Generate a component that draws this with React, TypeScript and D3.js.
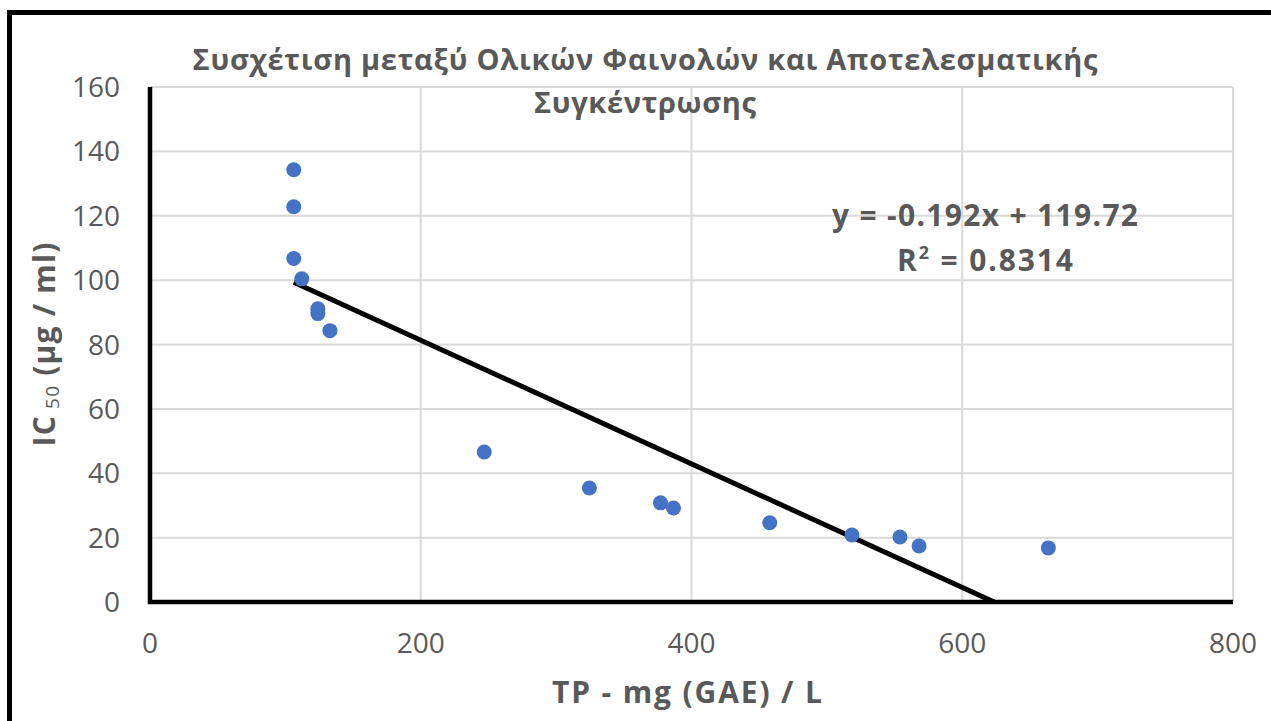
import React from "react";
import * as d3 from "d3";

const tpValues = [106.2, 106.2, 106.2, 112.1, 124.0, 124.0, 132.9, 246.9, 324.6, 377.1, 386.7, 457.8, 518.5, 554.0, 568.1, 663.6];
const ic50Values = [134.3, 122.8, 106.7, 100.4, 91.1, 89.6, 84.3, 46.6, 35.4, 30.8, 29.2, 24.6, 20.8, 20.2, 17.4, 16.8];
const xTicks = [0, 200, 400, 600, 800];
const yTicks = [0, 20, 40, 60, 80, 100, 120, 140, 160];
const trendSlope = -0.192;
const trendIntercept = 119.72;
const titleLines = ["Συσχέτιση μεταξύ Ολικών Φαινολών και Αποτελεσματικής", "Συγκέντρωσης"];
const xTitle = "TP - mg (GAE) / L";
const equationText = "y = -0.192x + 119.72";
const r2Value = "0.8314";

const W = 1271;
const H = 721;
const FONT = "'Open Sans', 'Noto Sans', sans-serif";
const GRAY = "#595959";

export default function App() {
  const x = d3.scaleLinear().domain([0, 800]).range([150, 1233]);
  const y = d3.scaleLinear().domain([0, 160]).range([602, 87]);
  const pts = tpValues.map((v, i) => [v, ic50Values[i]] as [number, number]);
  const xMin = d3.min(tpValues) as number;
  const xMax = d3.max(tpValues) as number;
  const trend = d3
    .line<number>()
    .x((d) => x(d))
    .y((d) => y(trendSlope * d + trendIntercept));
  const trendPath = trend([xMin, xMax]) || "";

  return (
    <svg
      width={W}
      height={H}
      style={{ position: "absolute", left: 0, top: 0, display: "block", background: "#fff" }}
    >
      <defs>
        <clipPath id="plotClip">
          <rect x={x(0)} y={y(160)} width={x(800) - x(0)} height={y(0) - y(160)} />
        </clipPath>
      </defs>
      <rect x={0} y={0} width={W} height={H} fill="#fff" />
      {/* outer frame */}
      <rect x={9.5} y={12.5} width={W + 20} height={H + 20} fill="none" stroke="#000" strokeWidth={5} />

      {/* gridlines */}
      {yTicks.filter((t) => t > 0).map((t) => (
        <line key={"gy" + t} x1={x(0)} x2={x(800)} y1={y(t)} y2={y(t)} stroke="#d9d9d9" strokeWidth={2} />
      ))}
      {xTicks.filter((t) => t > 0).map((t) => (
        <line key={"gx" + t} x1={x(t)} x2={x(t)} y1={y(160)} y2={y(0)} stroke="#d9d9d9" strokeWidth={2} />
      ))}

      {/* axes */}
      <line x1={x(0)} x2={x(0)} y1={y(160)} y2={y(0) + 2} stroke="#000" strokeWidth={4.5} />
      <line x1={x(0) - 2} x2={x(800)} y1={y(0)} y2={y(0)} stroke="#000" strokeWidth={4.5} />

      {/* tick labels */}
      {yTicks.map((t) => (
        <text key={"ty" + t} x={120} y={y(t)} dy="0.36em" textAnchor="end" fontFamily={FONT} fontSize={28} fill={GRAY}>
          {t}
        </text>
      ))}
      {xTicks.map((t) => (
        <text key={"tx" + t} x={x(t)} y={653} textAnchor="middle" fontFamily={FONT} fontSize={28} fill={GRAY}>
          {t}
        </text>
      ))}

      {/* trendline */}
      <path d={trendPath} stroke="#000" strokeWidth={5} fill="none" clipPath="url(#plotClip)" />

      {/* points */}
      {pts.map((p, i) => (
        <circle key={"p" + i} cx={x(p[0])} cy={y(p[1])} r={7.5} fill="#4472C4" />
      ))}

      {/* title */}
      <text x={645} y={70} textAnchor="middle" fontFamily={FONT} fontWeight="bold" fontSize={29} fill={GRAY} textLength={905}>
        {titleLines[0]}
      </text>
      <text x={645} y={113} textAnchor="middle" fontFamily={FONT} fontWeight="bold" fontSize={29} fill={GRAY} textLength={222}>
        {titleLines[1]}
      </text>

      {/* equation */}
      <text x={985} y={226} textAnchor="middle" fontFamily={FONT} fontWeight="bold" fontSize={30} fill={GRAY} textLength={306}>
        {equationText}
      </text>
      <text x={985} y={271} textAnchor="middle" fontFamily={FONT} fontWeight="bold" fontSize={30} fill={GRAY} textLength={176}>
        R<tspan fontSize={18} dy={-12}>2</tspan><tspan dy={12}> = {r2Value}</tspan>
      </text>

      {/* axis titles */}
      <text x={687} y={703} textAnchor="middle" fontFamily={FONT} fontWeight="bold" fontSize={30} fill={GRAY} textLength={270}>
        {xTitle}
      </text>
      <text
        transform={`translate(55, ${(y(0) + y(160)) / 2}) rotate(-90)`}
        textAnchor="middle"
        fontFamily={FONT}
        fontWeight="bold"
        fontSize={30}
        fill={GRAY}
        textLength={204}
      >
        IC<tspan fontSize={19} fontWeight="normal" dy={4}> 50</tspan><tspan dy={-4}> (μg / ml)</tspan>
      </text>
    </svg>
  );
}
